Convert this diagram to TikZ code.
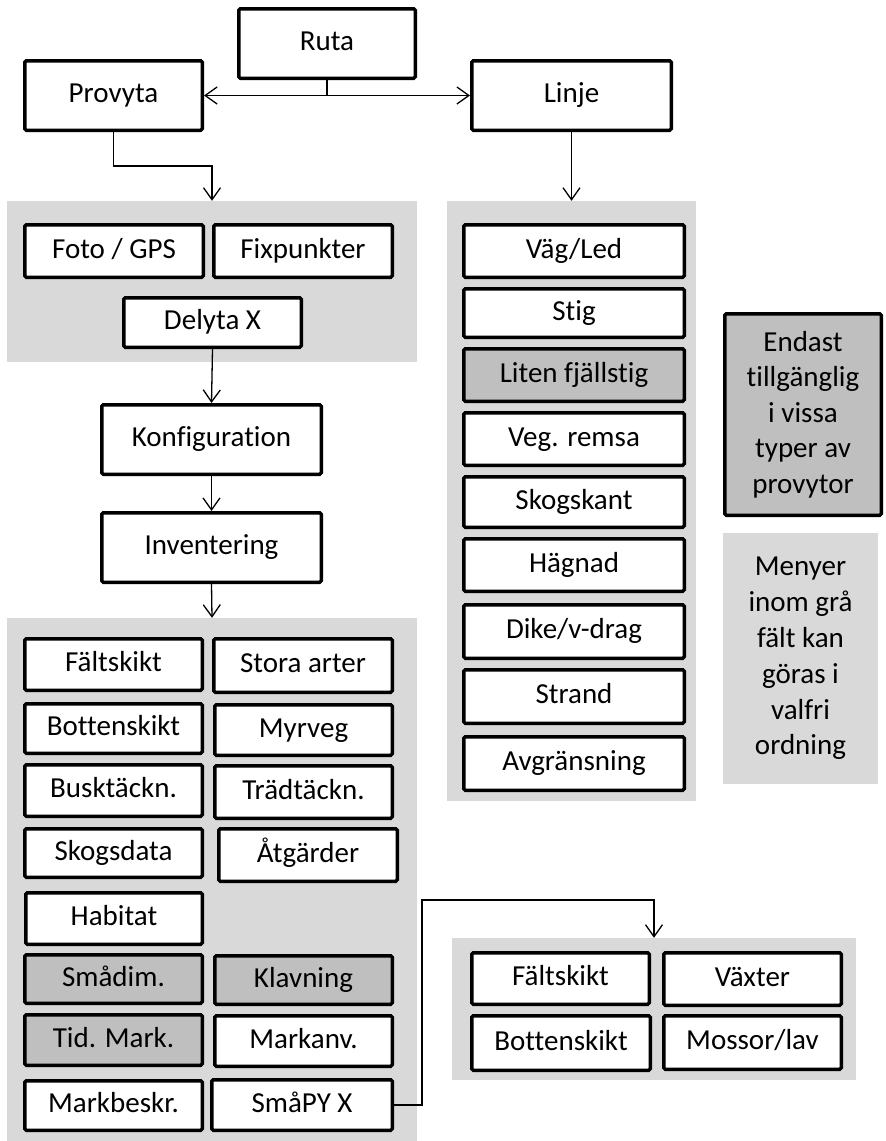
\documentclass[tikz,border=0pt]{standalone}
\usepackage{fontspec}
\setmainfont{Carlito}[Ligatures={NoCommon}]
\usetikzlibrary{arrows.meta}
\definecolor{panelgray}{HTML}{D9D9D9}
\definecolor{boxgray}{HTML}{BFBFBF}
\tikzset{
  box/.style={draw=black, line width=3.5pt, fill=white, rounded corners=1.5pt, inner sep=0pt,
    font=\fontsize{29}{35}\selectfont, text height=20pt, text depth=6pt},
  graybox/.style={box, fill=boxgray},
  notebox/.style={draw=black, line width=3.5pt, fill=boxgray, rounded corners=1.5pt, inner sep=0pt,
    font=\fontsize{29}{35.5}\selectfont, align=center},
  panel/.style={fill=panelgray, draw=none, inner sep=0pt},
  notepanel/.style={panel, font=\fontsize{29}{35.8}\selectfont, align=center},
  conn/.style={draw=black, line width=1.3pt},
  arr/.style={conn, -{Straight Barb[length=12pt,width=17pt,line width=1.3pt]}},
  biarr/.style={conn, {Straight Barb[length=12pt,width=17pt,line width=1.3pt]}-{Straight Barb[length=12pt,width=17pt,line width=1.3pt]}},
}
\newcommand\bx[7]{\node[#6, minimum width={#4pt-#2pt-3.5pt}, minimum height={#5pt-#3pt-3.5pt}] (#1) at ({(#2+#4)/2},{(#3+#5)/2}) {#7};}
\newcommand\pn[6]{\node[#6, minimum width={#4pt-#2pt}, minimum height={#5pt-#3pt}] (#1) at ({(#2+#4)/2},{(#3+#5)/2}) {};}
\begin{document}
\begin{tikzpicture}[x=1pt,y=-1pt]
\fill[white] (0,0) rectangle (886,1141);
\useasboundingbox (0,0) rectangle (886,1141);

% panels
\pn{p1}{7}{201}{417}{362}{panel}
\pn{p2}{447}{201}{696}{801}{panel}
\pn{p3}{7}{618}{417}{1141}{panel}
\pn{p4}{452}{938}{856}{1080}{panel}

% top
\bx{ruta}{237}{7}{417}{80}{box}{Ruta}
\bx{provyta}{23}{59}{204}{132}{box}{Provyta}
\bx{linje}{470}{59}{673}{132}{box}{Linje}

% panel 1 and chain
\bx{foto}{23}{223}{205}{279}{box}{Foto / GPS}
\bx{fix}{212}{223}{394}{279}{box}{Fixpunkter}
\bx{delyta}{122}{296}{303}{349}{box}{Delyta X}
\bx{konf}{100}{403}{323}{476}{box}{Konfiguration}
\bx{inv}{100}{511}{323}{584}{box}{Inventering}

% panel 2
\bx{vag}{462}{223}{686}{279}{box}{Väg/Led}
\bx{stig}{462}{287}{686}{339}{box}{Stig}
\bx{liten}{462}{347}{686}{403}{graybox}{Liten fjällstig}
\bx{veg}{462}{411}{686}{467}{box}{Veg. remsa}
\bx{skogskant}{462}{475}{686}{529}{box}{Skogskant}
\bx{hagnad}{462}{537}{686}{593}{box}{Hägnad}
\bx{dike}{462}{603}{686}{660}{box}{Dike/v-drag}
\bx{strand}{462}{668}{686}{725}{box}{Strand}
\bx{avgr}{462}{735}{686}{792}{box}{Avgränsning}

% legend
\node[notebox, minimum width=156.5pt, minimum height=201.5pt] (endast) at (803,414.5)
  {Endast\\tillgänglig\\i vissa\\typer av\\provytor};
\node[notepanel, minimum width=155pt, minimum height=251pt] (menyer) at (800.5,658.5)
  {Menyer\\inom grå\\fält kan\\göras i\\valfri\\ordning};

% panel 3
\bx{falt}{23}{637}{204}{692}{box}{Fältskikt}
\bx{stora}{212}{637}{394}{694}{box}{Stora arter}
\bx{botten}{23}{702}{204}{755}{box}{Bottenskikt}
\bx{myrveg}{213}{703}{394}{757}{box}{Myrveg}
\bx{busk}{23}{763}{204}{818}{box}{Busktäckn.}
\bx{trad}{213}{764}{394}{820}{box}{Trädtäckn.}
\bx{skogsdata}{23}{827}{204}{879}{box}{Skogsdata}
\bx{atgard}{217}{827}{399}{883}{box}{Åtgärder}
\bx{habitat}{24}{891}{204}{946}{box}{Habitat}
\bx{smadim}{23}{953}{204}{1005}{graybox}{Smådim.}
\bx{klav}{213}{954}{394}{1006}{graybox}{Klavning}
\bx{tid}{23}{1013}{204}{1067}{graybox}{Tid. Mark.}
\bx{markanv}{213}{1014}{394}{1068}{box}{Markanv.}
\bx{markbeskr}{23}{1079}{204}{1132}{box}{Markbeskr.}
\bx{smapy}{210}{1078}{394}{1132}{box}{SmåPY X}

% panel 4
\bx{falt2}{470}{951}{651}{1006}{box}{Fältskikt}
\bx{vaxter}{662}{951}{843}{1007}{box}{Växter}
\bx{botten2}{470}{1014}{652}{1072}{box}{Bottenskikt}
\bx{mossor}{662}{1014}{843}{1071}{box}{Mossor/lav}

% clipped glyph at the right edge (cut off in the reference too)
\node[anchor=west, inner sep=0pt, font=\fontsize{29}{35}\selectfont] (paren) at (884,1073) {(};

% connectors
\coordinate (rj) at (ruta.south |- provyta.east);
\draw[conn] (ruta.south) -- (rj);
\draw[biarr] (provyta.east) -- (linje.west |- provyta.east);
\coordinate (pv) at (113.5,166);
\draw[arr] (provyta.south) -- (pv) -| (p1.north);
\draw[arr] (linje.south) -- (linje.south |- p2.north);
\draw[arr] (delyta.south) -- (konf.north);
\draw[arr] (konf.south) -- (inv.north);
\draw[arr] (inv.south) -- (p3.north);
\coordinate (k1) at (422,900);
\draw[arr] (smapy.east) -| (k1) -| (p4.north);
\end{tikzpicture}
\end{document}
